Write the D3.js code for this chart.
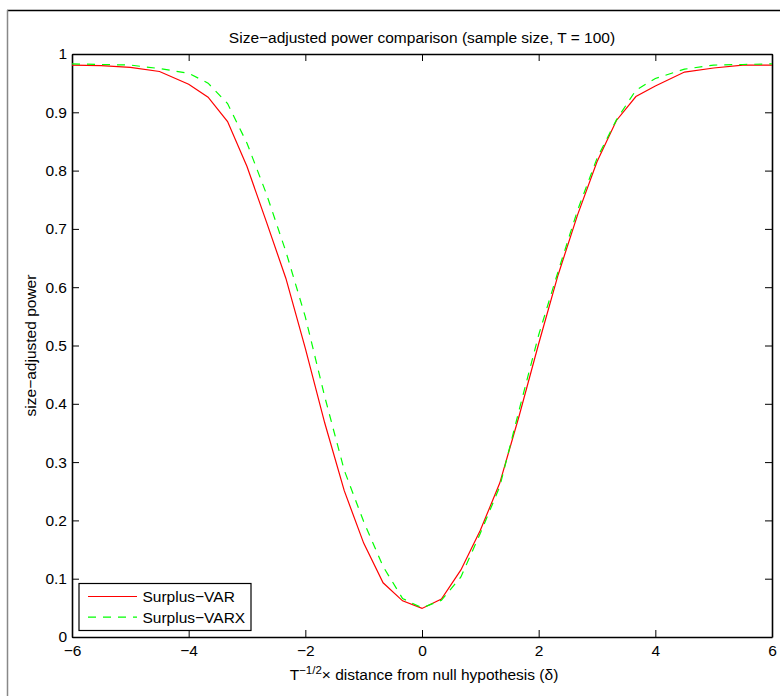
<!DOCTYPE html>
<html>
<head>
<meta charset="utf-8">
<script src="https://cdn.jsdelivr.net/npm/d3@7"></script>
<style>
  body { margin: 0; background: #fff; }
  svg { display: block; font-family: "Liberation Sans", Arial, Helvetica, sans-serif; }
</style>
</head>
<body>
<svg id="chart" width="780" height="696"></svg>
<script>
// delta grid (T^-1/2 x distance from the null)
const deltaValues = [-6, -5.5, -5, -4.5, -4, -3.667, -3.333, -3, -2.667, -2.333, -2, -1.667, -1.333, -1, -0.667, -0.333,
  0, 0.333, 0.667, 1, 1.333, 1.667, 2, 2.333, 2.667, 3, 3.333, 3.667, 4, 4.5, 5, 5.5, 6];

const surplusVar = [0.981, 0.980, 0.977, 0.970, 0.948, 0.926, 0.884, 0.807, 0.712, 0.615, 0.495, 0.367, 0.251, 0.161, 0.093, 0.062,
  0.049, 0.065, 0.115, 0.183, 0.264, 0.380, 0.503, 0.621, 0.724, 0.815, 0.886, 0.927, 0.945, 0.969, 0.976, 0.981, 0.981];

const surplusVarx = [0.983, 0.982, 0.981, 0.975, 0.967, 0.950, 0.915, 0.847, 0.760, 0.661, 0.549, 0.412, 0.286, 0.198, 0.121, 0.066,
  0.050, 0.063, 0.103, 0.178, 0.258, 0.390, 0.518, 0.627, 0.732, 0.821, 0.887, 0.938, 0.958, 0.974, 0.981, 0.982, 0.983];

const seriesNames = ['Surplus\u2212VAR', 'Surplus\u2212VARX'];
const xTicks = [-6, -4, -2, 0, 2, 4, 6];
const yTicks = [0, 0.1, 0.2, 0.3, 0.4, 0.5, 0.6, 0.7, 0.8, 0.9, 1];

const margin = { top: 54, right: 8, bottom: 59, left: 72 };
const width = 780;
const height = 696;
const fontSize = 15.5;
const tickLen = 7;

const svg = d3.select('#chart');

// figure frame (cut off at the right / bottom)
svg.append('line')
  .attr('x1', 7).attr('x2', width).attr('y1', 10.5).attr('y2', 10.5)
  .attr('stroke', '#000').attr('stroke-width', 1.5);
svg.append('line')
  .attr('x1', 7.5).attr('x2', 7.5).attr('y1', 10).attr('y2', height)
  .attr('stroke', '#888').attr('stroke-width', 1.5);

const x = d3.scaleLinear()
  .domain([-6, 6])
  .range([margin.left, width - margin.right]);

const y = d3.scaleLinear()
  .domain([0, 1])
  .range([height - margin.bottom, margin.top]);

const fmtY = (d) => String(+d.toFixed(1));

const styleAxis = (g) => {
  g.selectAll('.domain').attr('stroke', '#000').attr('stroke-width', 1.6);
  g.selectAll('.tick line').attr('stroke', '#000').attr('stroke-width', 1);
  g.selectAll('.tick text')
    .attr('fill', '#000')
    .attr('font-size', fontSize)
    .attr('font-family', '"Liberation Sans", Arial, Helvetica, sans-serif');
};

// bottom axis with labels
svg.append('g')
  .attr('transform', `translate(0,${height - margin.bottom})`)
  .call(d3.axisBottom(x).tickValues(xTicks).tickSize(-tickLen).tickSizeOuter(0).tickPadding(8))
  .call(styleAxis);

// top axis, ticks only
svg.append('g')
  .attr('transform', `translate(0,${margin.top})`)
  .call(d3.axisTop(x).tickValues(xTicks).tickSize(-tickLen).tickSizeOuter(0).tickFormat(''))
  .call(styleAxis);

// left axis with labels
svg.append('g')
  .attr('transform', `translate(${margin.left},0)`)
  .call(d3.axisLeft(y).tickValues(yTicks).tickSize(-tickLen).tickSizeOuter(0).tickPadding(5).tickFormat(fmtY))
  .call(styleAxis);

// right axis, ticks only
svg.append('g')
  .attr('transform', `translate(${width - margin.right},0)`)
  .call(d3.axisRight(y).tickValues(yTicks).tickSize(-tickLen).tickSizeOuter(0).tickFormat(''))
  .call(styleAxis);

// curves
const line = d3.line()
  .x((d) => x(d[0]))
  .y((d) => y(d[1]));

const series = [
  { name: seriesNames[0], values: surplusVar, color: '#ff0000', dash: null },
  { name: seriesNames[1], values: surplusVarx, color: '#00ff00', dash: '8,7' },
];

const plotArea = svg.append('g');
series.forEach((s) => {
  plotArea.append('path')
    .datum(deltaValues.map((d, i) => [d, s.values[i]]))
    .attr('fill', 'none')
    .attr('stroke', s.color)
    .attr('stroke-width', 1.2)
    .attr('stroke-dasharray', s.dash)
    .attr('d', line);
});

// title
svg.append('text')
  .attr('x', (margin.left + width - margin.right) / 2)
  .attr('y', 43)
  .attr('text-anchor', 'middle')
  .attr('font-size', fontSize)
  .text('Size\u2212adjusted power comparison (sample size, T = 100)');

// x label with superscript
const xLabel = svg.append('text')
  .attr('x', 424)
  .attr('y', 680)
  .attr('text-anchor', 'middle')
  .attr('font-size', fontSize);
xLabel.append('tspan').text('T');
xLabel.append('tspan').attr('dy', -6).attr('font-size', 11.5).text('\u22121/2');
xLabel.append('tspan').attr('dy', 6).text('\u00d7 distance from null hypothesis (\u03b4)');

// y label
svg.append('text')
  .attr('transform', `translate(35.5,${(margin.top + height - margin.bottom) / 2}) rotate(-90)`)
  .attr('text-anchor', 'middle')
  .attr('font-size', fontSize)
  .text('size\u2212adjusted power');

// legend
const legend = svg.append('g').attr('transform', 'translate(79,583.5)');
legend.append('rect')
  .attr('width', 172).attr('height', 47)
  .attr('fill', '#fff').attr('stroke', '#000').attr('stroke-width', 1.2);

series.forEach((s, i) => {
  const row = legend.append('g').attr('transform', `translate(0,${13 + i * 20.7})`);
  row.append('line')
    .attr('x1', 9).attr('x2', 58)
    .attr('stroke', s.color).attr('stroke-width', 1.2)
    .attr('stroke-dasharray', s.dash);
  row.append('text')
    .attr('x', 63.5).attr('dy', '0.35em')
    .attr('font-size', fontSize)
    .text(s.name);
});
</script>
</body>
</html>
